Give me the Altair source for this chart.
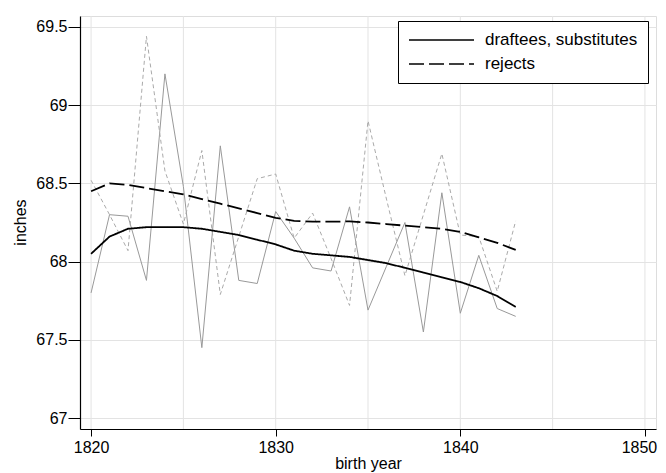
import altair as alt
import pandas as pd

years = list(range(1820, 1844))

draftees_raw = [67.80, 68.30, 68.29, 67.88, 69.20, 68.48, 67.45, 68.74, 67.88, 67.86,
                68.32, 68.15, 67.96, 67.94, 68.35, 67.69, 67.97, 68.25, 67.55, 68.44,
                67.67, 68.04, 67.70, 67.65]
rejects_raw = [68.52, 68.30, 68.07, 69.44, 68.58, 68.24, 68.71, 67.79, 68.16, 68.53,
               68.56, 68.15, 68.31, 68.02, 67.72, 68.90, 68.40, 67.91, 68.30, 68.69,
               68.17, 68.16, 67.81, 68.26]
draftees_smooth = [68.05, 68.16, 68.21, 68.22, 68.22, 68.22, 68.21, 68.19, 68.17, 68.14,
                   68.11, 68.07, 68.05, 68.04, 68.03, 68.01, 67.99, 67.96, 67.93, 67.90,
                   67.87, 67.83, 67.78, 67.71]
rejects_smooth = [68.45, 68.50, 68.49, 68.47, 68.45, 68.43, 68.40, 68.37, 68.34, 68.31,
                  68.28, 68.26, 68.255, 68.255, 68.257, 68.25, 68.24, 68.23, 68.22, 68.21,
                  68.19, 68.155, 68.12, 68.075]

series_names = ["draftees, substitutes", "rejects"]
grid_years = [1820, 1825, 1830, 1835, 1840, 1845, 1850]
x_ticks = [1820, 1830, 1840, 1850]
y_ticks = [67, 67.5, 68, 68.5, 69, 69.5]

FONT = "Liberation Sans"

raw_d = pd.DataFrame({"year": years, "inches": draftees_raw})
raw_r = pd.DataFrame({"year": years, "inches": rejects_raw})
smooth = pd.DataFrame({
    "year": years * 2,
    "inches": draftees_smooth + rejects_smooth,
    "series": [series_names[0]] * len(years) + [series_names[1]] * len(years),
})
grid_df = pd.DataFrame({"year": grid_years})

xscale = alt.Scale(domain=[1819.4, 1850.6], nice=False, zero=False)
yscale = alt.Scale(domain=[66.93, 69.57], nice=False, zero=False)

xaxis = alt.Axis(values=x_ticks, format="d", grid=False, title="birth year",
                 labelFont=FONT, labelFontSize=16, labelColor="black", labelPadding=3,
                 labelOffset={"condition": {"test": "datum.value == 1850", "value": -6}, "value": 0},
                 tickSize=7, tickColor="black", domainColor="black", domainWidth=1.2,
                 titleFont=FONT, titleFontSize=16, titleFontWeight="normal", titleColor="black",
                 titleX=288, titleY=34, titleBaseline="middle")
yaxis = alt.Axis(values=y_ticks, format="~g", grid=True, gridColor="#e3e3e3", gridWidth=1,
                 title="inches", labelFont=FONT, labelFontSize=16, labelColor="black",
                 labelPadding=1, tickSize=12, tickColor="black", domainColor="black",
                 domainWidth=1.2, titleFont=FONT, titleFontSize=16, titleFontWeight="normal",
                 titleColor="black", titleX=-60, titleY=206, titleAngle=-90,
                 titleAlign="center", titleBaseline="middle")

vgrid = alt.Chart(grid_df).mark_rule(color="#e3e3e3", strokeWidth=1).encode(
    x=alt.X("year:Q", scale=xscale, axis=xaxis),
)

base_x = alt.X("year:Q", scale=xscale, axis=xaxis)
base_y = alt.Y("inches:Q", scale=yscale, axis=yaxis)

l_raw_d = alt.Chart(raw_d).mark_line(color="#999999", strokeWidth=1).encode(x=base_x, y=base_y)
l_raw_r = alt.Chart(raw_r).mark_line(color="#aaaaaa", strokeWidth=1, strokeDash=[4, 3]).encode(
    x=base_x, y=base_y)

l_smooth = alt.Chart(smooth).mark_line(color="black", strokeWidth=1.8).encode(
    x=base_x, y=base_y,
    strokeDash=alt.StrokeDash(
        "series:N",
        scale=alt.Scale(domain=series_names, range=[[1, 0], [15, 5]]),
        legend=alt.Legend(
            title=None, orient="none", legendX=318, legendY=5,
            symbolType="stroke", symbolSize=4225, symbolStrokeWidth=1.5,
            symbolStrokeColor="black", labelFont=FONT, labelFontSize=17,
            labelColor="black", labelOffset=10, padding=10, rowPadding=6,
            clipHeight=18, strokeColor="black", fillColor="white", cornerRadius=0,
        ),
    ),
)

chart = alt.layer(vgrid, l_raw_d, l_raw_r, l_smooth).properties(
    width=576, height=413,
    autosize=alt.AutoSizeParams(type="none"),
    padding={"left": 72, "top": 8, "right": 2, "bottom": 44},
).configure_view(stroke="#555555", strokeWidth=1.2).configure(background="white")

chart.save("out.html", embed_options={"renderer": "svg", "actions": False})
